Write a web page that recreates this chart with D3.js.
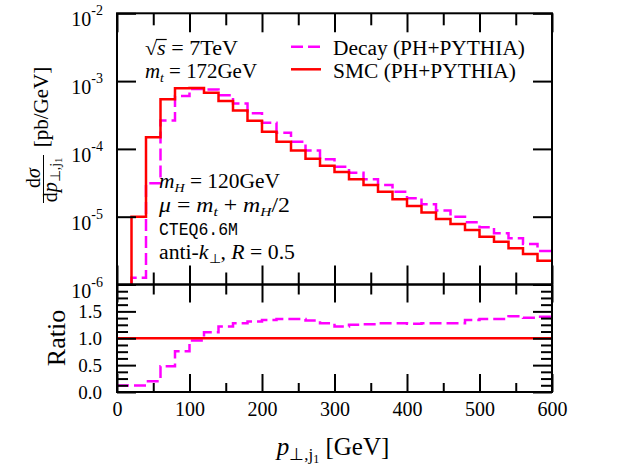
<!DOCTYPE html>
<html><head><meta charset="utf-8">
<script src="https://cdn.jsdelivr.net/npm/d3@7"></script>
<style>
body{margin:0;background:#fff}
text{font-family:"Liberation Serif","Times New Roman",serif;fill:#000}
</style>
</head><body>
<svg id="chart" width="622" height="472"></svg>
<script>
// ---------- data ----------
const mainBins = [20,40,60,80,100,120,140,160,180,200,220,240,260,280,300,320,340,360,380,400,420,440,460,480,500,520,540,560,580];
const smc = [1.00e-5,1.48e-4,5.40e-4,7.84e-4,7.90e-4,6.75e-4,5.09e-4,3.68e-4,2.61e-4,1.79e-4,1.28e-4,9.5e-5,7.15e-5,5.63e-5,4.56e-5,3.56e-5,2.94e-5,2.34e-5,1.81e-5,1.44e-5,1.15e-5,9.25e-6,7.8e-6,6.37e-6,5.07e-6,4.28e-6,3.42e-6,2.82e-6,2.24e-6];
const decay = [1.26e-6,3.11e-5,2.62e-4,6.03e-4,7.64e-4,7.5e-4,6.18e-4,4.66e-4,3.35e-4,2.43e-4,1.73e-4,1.28e-4,9.5e-5,7.03e-5,5.47e-5,4.46e-5,3.56e-5,2.94e-5,2.34e-5,1.87e-5,1.52e-5,1.23e-5,1.0e-5,8.27e-6,6.98e-6,5.69e-6,4.80e-6,3.95e-6,3.12e-6];
const ratioBins = [0,20,40,60,80,100,120,140,160,180,200,220,240,260,280,300,320,340,360,380,400,420,440,460,480,500,520,540,560,580];
const ratio = [0.12,0.12,0.20,0.48,0.76,0.96,1.11,1.22,1.28,1.31,1.34,1.36,1.36,1.33,1.28,1.22,1.25,1.26,1.28,1.28,1.27,1.28,1.28,1.28,1.34,1.36,1.36,1.41,1.38,1.40];
const xMax = 600;
const xMajorTicks = [0,100,200,300,400,500,600];
const xMinorTicks = [50,150,250,350,450,550];
const yMainTicks = [1e-6,1e-5,1e-4,1e-3,1e-2];
const yMainExp = ["-6","-5","-4","-3","-2"];
const ratioMajorTicks = [0,0.5,1.0,1.5,2.0];
const ratioLabels = ["0.0","0.5","1.0","1.5",""];
const ratioMinorTicks = [0.125,0.25,0.375,0.625,0.75,0.875,1.125,1.25,1.375,1.625,1.75,1.875];
const legendNames = ["Decay (PH+PYTHIA)","SMC (PH+PYTHIA)"];

// ---------- layout ----------
const L = 117, R = 552, T = 13.3, MB = 284.5, RB = 392;
const svg = d3.select("#chart");
const x = d3.scaleLinear().domain([0, xMax]).range([L, R]);
const y = d3.scaleLog().domain([1e-6, 1e-2]).range([MB, T]);
const yr = d3.scaleLinear().domain([0, 2]).range([RB, MB]);

const defs = svg.append("defs");
defs.append("clipPath").attr("id","clipMain").append("rect").attr("x",L).attr("y",T).attr("width",R-L).attr("height",MB-T);
defs.append("clipPath").attr("id","clipRatio").append("rect").attr("x",L).attr("y",MB).attr("width",R-L).attr("height",RB-MB);

const RED = "#ff0000", MAG = "#ff00ff";

// ---------- histogram steps ----------
function stepPoints(bins, vals, startBottom) {
  const pts = [];
  if (startBottom) pts.push([bins[0], startBottom]);
  bins.forEach((b,i) => pts.push([b, vals[i]]));
  pts.push([xMax, vals[vals.length-1]]);
  return pts;
}
const lineMain = d3.line().x(d => x(d[0])).y(d => y(d[1])).curve(d3.curveStepAfter);
const lineRatio = d3.line().x(d => x(d[0])).y(d => yr(d[1])).curve(d3.curveStepAfter);

const gm = svg.append("g").attr("clip-path","url(#clipMain)");
gm.append("path").attr("d", lineMain(stepPoints(mainBins, decay, 1e-6)))
  .attr("fill","none").attr("stroke",MAG).attr("stroke-width",2.5).attr("stroke-dasharray","12,5");
gm.append("path").attr("d", lineMain(stepPoints(mainBins, smc, 1e-6)))
  .attr("fill","none").attr("stroke",RED).attr("stroke-width",2.5);

const gr = svg.append("g").attr("clip-path","url(#clipRatio)");
gr.append("path").attr("d", lineRatio(stepPoints(ratioBins, ratio)))
  .attr("fill","none").attr("stroke",MAG).attr("stroke-width",2.5).attr("stroke-dasharray","12,5");
gr.append("path").attr("d", lineRatio([[0,1],[xMax,1]]))
  .attr("fill","none").attr("stroke",RED).attr("stroke-width",2.5);

// ---------- axes ----------
function styleAxis(g) {
  g.select(".domain").remove();
  g.selectAll(".tick line").attr("stroke","#000").attr("stroke-width",2);
  g.selectAll(".tick text").attr("font-family","Liberation Serif").attr("fill","#000");
}
// main panel x
svg.append("g").attr("transform",`translate(0,${T})`).call(d3.axisTop(x).tickValues(xMajorTicks).tickSize(-19).tickFormat("")).call(styleAxis);
svg.append("g").attr("transform",`translate(0,${T})`).call(d3.axisTop(x).tickValues(xMinorTicks).tickSize(-12).tickFormat("")).call(styleAxis);
svg.append("g").attr("transform",`translate(0,${MB})`).call(d3.axisBottom(x).tickValues(xMajorTicks).tickSize(-19).tickFormat("")).call(styleAxis);
svg.append("g").attr("transform",`translate(0,${MB})`).call(d3.axisBottom(x).tickValues(xMinorTicks).tickSize(-12).tickFormat("")).call(styleAxis);
// main panel y
svg.append("g").attr("transform",`translate(${L},0)`).call(d3.axisLeft(y).tickValues(yMainTicks).tickSize(-19).tickFormat("")).call(styleAxis);
svg.append("g").attr("transform",`translate(${R},0)`).call(d3.axisRight(y).tickValues(yMainTicks).tickSize(-19).tickFormat("")).call(styleAxis);
// y labels 10^n
yMainTicks.forEach((v,i) => {
  const t = svg.append("text").attr("x", 103).attr("y", y(v) + 13).attr("text-anchor","end").attr("font-size",20);
  t.append("tspan").text("10");
  t.append("tspan").attr("dy",-11).attr("font-size",14).text(yMainExp[i]);
});
// ratio x
svg.append("g").attr("transform",`translate(0,${MB})`).call(d3.axisTop(x).tickValues(xMajorTicks).tickSize(-18).tickFormat("")).call(styleAxis);
svg.append("g").attr("transform",`translate(0,${MB})`).call(d3.axisTop(x).tickValues(xMinorTicks).tickSize(-10).tickFormat("")).call(styleAxis);
svg.append("g").attr("transform",`translate(0,${RB})`).call(d3.axisBottom(x).tickValues(xMajorTicks).tickSize(-18).tickPadding(10).tickFormat(d3.format("d")))
  .call(styleAxis).call(g => g.selectAll(".tick text").attr("font-size",20));
svg.append("g").attr("transform",`translate(0,${RB})`).call(d3.axisBottom(x).tickValues(xMinorTicks).tickSize(-9).tickFormat("")).call(styleAxis);
// ratio y
svg.append("g").attr("transform",`translate(${L},0)`).call(d3.axisLeft(yr).tickValues(ratioMajorTicks).tickSize(-19).tickPadding(15).tickFormat((d,i)=>ratioLabels[i]))
  .call(styleAxis).call(g => g.selectAll(".tick text").attr("font-size",19));
svg.append("g").attr("transform",`translate(${L},0)`).call(d3.axisLeft(yr).tickValues(ratioMinorTicks).tickSize(-11).tickFormat("")).call(styleAxis);
svg.append("g").attr("transform",`translate(${R},0)`).call(d3.axisRight(yr).tickValues(ratioMajorTicks).tickSize(-19).tickFormat("")).call(styleAxis);
svg.append("g").attr("transform",`translate(${R},0)`).call(d3.axisRight(yr).tickValues(ratioMinorTicks).tickSize(-11).tickFormat("")).call(styleAxis);

// frames
svg.append("rect").attr("x",L).attr("y",T).attr("width",R-L).attr("height",MB-T).attr("fill","none").attr("stroke","#000").attr("stroke-width",2);
svg.append("rect").attr("x",L).attr("y",MB).attr("width",R-L).attr("height",RB-MB).attr("fill","none").attr("stroke","#000").attr("stroke-width",2);

// ---------- rich text helper ----------
function rich(parent, px, py, parts, size, opts) {
  opts = opts || {};
  const t = parent.append("text").attr("x",px).attr("y",py).attr("font-size",size)
    .attr("text-anchor", opts.anchor || "start");
  let cur = 0;
  parts.forEach(p => {
    const ts = t.append("tspan").text(p.t);
    if (p.i) ts.attr("font-style","italic");
    if (p.s) ts.attr("font-size", p.s);
    if (p.f) ts.attr("font-family", p.f);
    const off = p.o || 0;
    if (off !== cur) { ts.attr("dy", off - cur); cur = off; }
  });
  if (opts.len) t.attr("textLength", opts.len).attr("lengthAdjust","spacingAndGlyphs");
  return t;
}
const SUB = 13;

// annotations (top left)
const sq = rich(svg, 145, 55, [{t:"√"},{t:"s",i:1},{t:" = 7TeV"}], 20, {len:93});
{
  const n = sq.node();
  const e0 = n.getExtentOfChar(0), e1 = n.getExtentOfChar(1);
  svg.append("line").attr("x1", e0.x + e0.width - 1).attr("x2", e1.x + e1.width + 1)
    .attr("y1", e0.y + 2.5).attr("y2", e0.y + 2.5).attr("stroke","#000").attr("stroke-width",1.2);
}
rich(svg, 145, 78, [{t:"m",i:1},{t:"t",i:1,s:SUB,o:4},{t:" = 172GeV",o:0}], 20, {len:112});

// legend
svg.append("line").attr("x1",291).attr("x2",321).attr("y1",46.7).attr("y2",46.7)
  .attr("stroke",MAG).attr("stroke-width",2.5).attr("stroke-dasharray","12,5");
svg.append("line").attr("x1",291).attr("x2",321).attr("y1",69.3).attr("y2",69.3)
  .attr("stroke",RED).attr("stroke-width",2.5);
rich(svg, 333, 55, [{t:legendNames[0]}], 20, {len:192});
rich(svg, 333, 77.5, [{t:legendNames[1]}], 20, {len:183});

// annotations (lower left)
rich(svg, 159, 188, [{t:"m",i:1},{t:"H",i:1,s:SUB,o:4},{t:" = 120GeV",o:0}], 20, {len:121});
rich(svg, 159, 212, [{t:"μ",i:1},{t:" = "},{t:"m",i:1},{t:"t",i:1,s:SUB,o:4},{t:" + ",o:0},{t:"m",i:1},{t:"H",i:1,s:SUB,o:4},{t:"/2",o:0}], 20, {len:131});
rich(svg, 159, 235, [{t:"CTEQ6.6M",f:"Liberation Mono"}], 19, {len:79});
rich(svg, 159, 259, [{t:"anti-"},{t:"k",i:1},{t:"⊥",s:SUB,o:4},{t:", ",o:0},{t:"R",i:1},{t:" = 0.5"}], 20, {len:136});

// ---------- axis titles ----------
rich(svg, 333, 455, [{t:"p",i:1},{t:"⊥,j",s:17,o:5},{t:"1",s:12,o:8},{t:" [GeV]",o:0}], 25, {anchor:"middle"});
svg.append("text").attr("transform","translate(65,338) rotate(-90)").attr("text-anchor","middle").attr("font-size",26).text("Ratio");

const yt = svg.append("g").attr("transform","rotate(-90)");
rich(yt, -107, 48, [{t:"[pb/GeV]"}], 21, {anchor:"middle"});
rich(yt, -178, 40, [{t:"d"},{t:"σ",i:1}], 20, {anchor:"middle"});
yt.append("line").attr("x1",-203).attr("x2",-155).attr("y1",43.5).attr("y2",43.5).attr("stroke","#000").attr("stroke-width",1);
rich(yt, -180, 57, [{t:"d"},{t:"p",i:1},{t:"⊥,j",s:14,o:3},{t:"1",s:10,o:5}], 20, {anchor:"middle"});
</script>
</body></html>
